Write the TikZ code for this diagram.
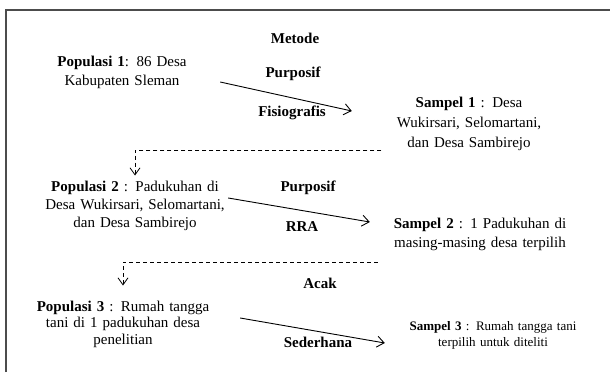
\documentclass[tikz,border=0pt]{standalone}
\usepackage{fontspec}
\setmainfont{Liberation Serif}
\usetikzlibrary{arrows.meta}
\begin{document}
\begin{tikzpicture}[x=1pt, y=-1pt, >={Straight Barb[length=7pt,width=11pt]},
    teks/.style={inner sep=0pt, align=center, font=\fontsize{15}{18.5}\selectfont},
    metode/.style={inner sep=0pt, font=\fontsize{15}{18}\selectfont\bfseries},
    panah/.style={->, line width=0.9pt},
    putus/.style={dash pattern=on 4pt off 3pt, line width=0.8pt, -{Straight Barb[length=7pt,width=10pt]}}]
    \useasboundingbox (0,0) rectangle (610,372);
    % bingkai
    \draw[line width=1.6pt, black!70] (6,372) |- (610,10);

    % judul kolom metode
    \node[metode] (judul) at (295,38) {Metode};

    % tahap 1
    \node[teks, text width=140pt] (pop1) at (122,72.5) {\textbf{Populasi 1}: 86 Desa\\ Kabupaten Sleman};
    \node[metode] (pur1) at (293,74) {Purposif};
    \node[metode] (fis1) at (292,113) {Fisiografis};
    \node[teks, text width=175pt, font=\fontsize{15}{20}\selectfont] (sam1) at (469,124) {\textbf{Sampel 1} : Desa\\ Wukirsari, Selomartani,\\ dan Desa Sambirejo};
    \draw[panah] ([shift={(28,9.5)}]pop1.east) -- ([shift={(-29.5,-13)}]sam1.west);

    % tahap 2
    \node[teks, text width=190pt, font=\fontsize{15}{18}\selectfont] (pop2) at (135,205.5) {\textbf{Populasi 2} : Padukuhan di\\ Desa Wukirsari, Selomartani,\\ dan Desa Sambirejo};
    \node[metode] (pur2) at (308,188) {Purposif};
    \node[metode] (rra) at (302,227) {RRA};
    \node[teks, text width=180pt, font=\fontsize{15}{19}\selectfont] (sam2) at (480,234) {\textbf{Sampel 2} : 1 Padukuhan di\\ masing-masing desa terpilih};
    \draw[putus, shorten >=5pt] ([shift={(0,-1)}]sam1.south west) -| (pop2.north);
    \draw[panah] ([shift={(-2,-7.5)}]pop2.east) -- ([shift={(-20,-12)}]sam2.west);

    % tahap 3
    \node[teks, text width=180pt, font=\fontsize{15}{16.5}\selectfont] (pop3) at (123,324) {\textbf{Populasi 3} : Rumah tangga\\ tani di 1 padukuhan desa\\ penelitian};
    \node[metode] (acak) at (320,283) {Acak};
    \node[metode] (sed) at (318,342) {Sederhana};
    \node[teks, text width=185pt, font=\fontsize{13}{16}\selectfont] (sam3) at (493,335) {\textbf{Sampel 3} : Rumah tangga tani\\ terpilih untuk diteliti};
    \draw[putus, shorten >=15pt] ([shift={(-12,11.7)}]sam2.south west) -| (pop3.north);
    \draw[panah] ([shift={(27,-6)}]pop3.east) -- ([shift={(-15.5,8)}]sam3.west);
\end{tikzpicture}
\end{document}
